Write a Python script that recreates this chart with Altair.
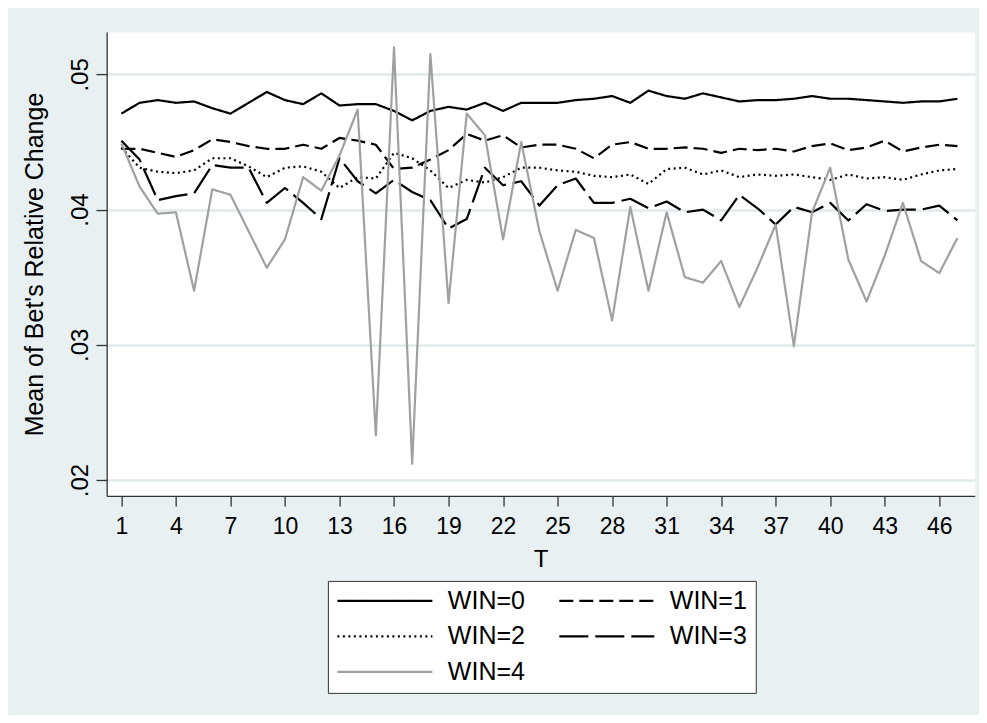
import altair as alt
import pandas as pd

T = list(range(1, 48))

win0 = [0.0471, 0.0479, 0.0481, 0.0479, 0.0480, 0.0475, 0.0471, 0.0479, 0.0487, 0.0481,
        0.0478, 0.0486, 0.0477, 0.0478, 0.0478, 0.0473, 0.0466, 0.0473, 0.0476, 0.0474,
        0.0479, 0.0473, 0.0479, 0.0479, 0.0479, 0.0481, 0.0482, 0.0484, 0.0479, 0.0488,
        0.0484, 0.0482, 0.0486, 0.0483, 0.0480, 0.0481, 0.0481, 0.0482, 0.0484, 0.0482,
        0.0482, 0.0481, 0.0480, 0.0479, 0.0480, 0.0480, 0.0482]
win1 = [0.0445, 0.0445, 0.0442, 0.0439, 0.0444, 0.0452, 0.0450, 0.0447, 0.0445, 0.0445,
        0.0448, 0.0445, 0.0453, 0.0451, 0.0448, 0.0430, 0.0431, 0.0437, 0.0444, 0.0456,
        0.0451, 0.0455, 0.0446, 0.0448, 0.0448, 0.0445, 0.0438, 0.0448, 0.0450, 0.0445,
        0.0445, 0.0446, 0.0445, 0.0442, 0.0445, 0.0444, 0.0445, 0.0443, 0.0447, 0.0449,
        0.0444, 0.0446, 0.0451, 0.0443, 0.0446, 0.0448, 0.0447]
win2 = [0.0446, 0.0431, 0.0428, 0.0427, 0.0429, 0.0438, 0.0438, 0.0432, 0.0424, 0.0431,
        0.0432, 0.0428, 0.0416, 0.0424, 0.0423, 0.0442, 0.0438, 0.0429, 0.0416, 0.0422,
        0.0420, 0.0424, 0.0431, 0.0431, 0.0429, 0.0428, 0.0425, 0.0424, 0.0426, 0.0419,
        0.0430, 0.0431, 0.0426, 0.0429, 0.0424, 0.0426, 0.0425, 0.0426, 0.0424, 0.0422,
        0.0426, 0.0423, 0.0424, 0.0422, 0.0426, 0.0429, 0.0430]
win3 = [0.0451, 0.0437, 0.0407, 0.0410, 0.0412, 0.0433, 0.0431, 0.0431, 0.0405, 0.0416,
        0.0405, 0.0393, 0.0438, 0.0421, 0.0412, 0.0422, 0.0413, 0.0407, 0.0386, 0.0393,
        0.0431, 0.0418, 0.0421, 0.0403, 0.0418, 0.0423, 0.0405, 0.0405, 0.0408, 0.0401,
        0.0406, 0.0398, 0.0400, 0.0392, 0.0411, 0.0401, 0.0389, 0.0402, 0.0398, 0.0405,
        0.0392, 0.0404, 0.0399, 0.0400, 0.0400, 0.0403, 0.0392]
win4 = [0.0449, 0.0417, 0.0397, 0.0398, 0.0340, 0.0415, 0.0411, 0.0384, 0.0357, 0.0378,
        0.0424, 0.0414, 0.0440, 0.0474, 0.0233, 0.0520, 0.0212, 0.0515, 0.0331, 0.0471,
        0.0455, 0.0378, 0.0450, 0.0384, 0.0340, 0.0385, 0.0379, 0.0318, 0.0402, 0.0340,
        0.0398, 0.0350, 0.0346, 0.0362, 0.0328, 0.0357, 0.0389, 0.0299, 0.0398, 0.0431,
        0.0363, 0.0332, 0.0366, 0.0405, 0.0362, 0.0353, 0.0379]

series_names = ["WIN=0", "WIN=1", "WIN=2", "WIN=3", "WIN=4"]
series_values = [win0, win1, win2, win3, win4]
series_colors = ["#000000", "#000000", "#000000", "#000000", "#A0A0A0"]
series_dashes = [[1, 0], [14, 6], [2, 3.5], [29, 7], [1, 0]]

x_ticks = list(range(1, 47, 3))
y_ticks = [0.02, 0.03, 0.04, 0.05]

rows = []
for name, vals in zip(series_names, series_values):
    for t, v in zip(T, vals):
        rows.append({"T": t, "value": v, "series": name})
df = pd.DataFrame(rows)

FONT = "Liberation Sans"
BG = "#E8F0F2"

legend = alt.Legend(
    title=None,
    orient="none",
    direction="horizontal",
    legendX=221.3,
    legendY=549,
    columns=2,
    symbolType="stroke",
    symbolSize=9025,
    symbolStrokeWidth=2.2,
    clipHeight=24,
    labelFont=FONT,
    labelFontSize=25,
    labelColor="#000000",
    labelOffset=14,
    columnPadding=32,
    rowPadding=10.5,
    padding=8,
    strokeColor="#333333",
    fillColor="#FFFFFF",
    symbolOffset=0,
)

chart = alt.Chart(df).mark_line(strokeWidth=2.2, strokeJoin="round").encode(
    x=alt.X(
        "T:Q",
        scale=alt.Scale(domain=[0.19, 47.95], nice=False, zero=False),
        axis=alt.Axis(
            values=x_ticks, title="T", grid=False, format="d",
            domainColor="#333333", domainWidth=1.3,
            tickColor="#333333", tickWidth=1.3, tickSize=10,
            labelFont=FONT, labelFontSize=23, labelColor="#000000",
            labelBaseline="alphabetic", labelPadding=27.5,
            labelFlush=False, labelOverlap=False,
            titleFont=FONT, titleFontSize=24, titleFontWeight="normal",
            titleColor="#000000", titleY=71, titleBaseline="alphabetic",
        ),
    ),
    y=alt.Y(
        "value:Q",
        scale=alt.Scale(domain=[0.01882, 0.05313], nice=False, zero=False),
        axis=alt.Axis(
            values=y_ticks, title="Mean of Bet's Relative Change",
            grid=True, gridColor="#E0EAED", gridWidth=2.5,
            domainColor="#333333", domainWidth=1.3,
            tickColor="#333333", tickWidth=1.3, tickSize=10.7,
            labelExpr="substring(format(datum.value, '.2f'), 1)",
            labelAngle=270, labelAlign="center", labelBaseline="alphabetic",
            labelPadding=8.7, labelFont=FONT, labelFontSize=24,
            labelColor="#000000", labelFlush=False, labelOverlap=False,
            titleFont=FONT, titleFontSize=25, titleFontWeight="normal",
            titleColor="#000000", titleAngle=270, titleAlign="center",
            titleBaseline="alphabetic", titleX=-64, titleY=232,
        ),
    ),
    stroke=alt.Stroke(
        "series:N",
        scale=alt.Scale(domain=series_names, range=series_colors),
        legend=legend,
    ),
    strokeDash=alt.StrokeDash(
        "series:N",
        scale=alt.Scale(domain=series_names, range=series_dashes),
        legend=legend,
    ),
).properties(
    width=868.3,
    height=464,
    autosize=alt.AutoSizeParams(type="none"),
    padding={"left": 98.7, "top": 24, "right": 4.3, "bottom": 219},
    background=BG,
).configure_view(
    fill="#FFFFFF", stroke="transparent"
)

chart.save("out.html", embed_options={"renderer": "svg", "actions": False})
